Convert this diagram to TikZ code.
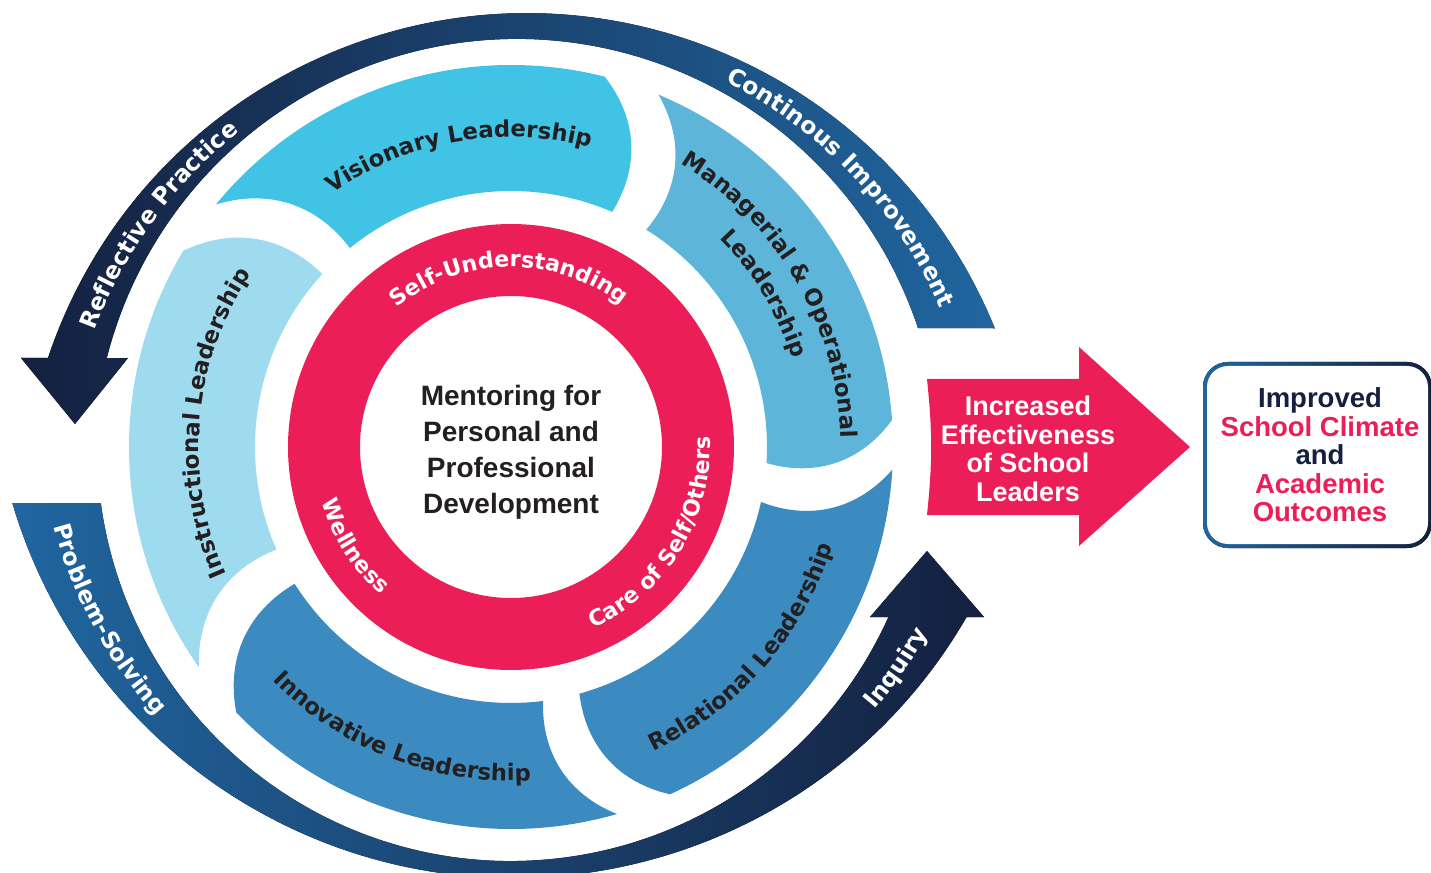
\documentclass[tikz,border=0pt]{standalone}
\usepackage{fontspec}
\setmainfont{Liberation Sans}
\newfontfamily\widefont{DejaVu Sans}
\usepackage{tikz}
\usetikzlibrary{decorations.text}

\definecolor{ringred}{HTML}{EC1E57}
\definecolor{navy}{HTML}{14203F}
\definecolor{steel}{HTML}{2066A0}
\definecolor{visionary}{HTML}{41C3E6}
\definecolor{managerial}{HTML}{5DB5DA}
\definecolor{relational}{HTML}{3B8BC0}
\definecolor{innovative}{HTML}{3B8BC0}
\definecolor{instructional}{HTML}{9FDBEF}
\definecolor{inkdark}{HTML}{231F20}

\newcommand\seglabel{\widefont\bfseries\fontsize{11.4}{13}\selectfont}
\newcommand\ringlabel{\widefont\bfseries\fontsize{11.1}{12}\selectfont}
\newcommand\looplabel{\widefont\bfseries\fontsize{11.75}{14}\selectfont}

\tikzset{
  curved label/.style 2 args={decorate,
    decoration={text along path, text align=center, text color=#1, text={#2}}},
}

\begin{document}
\begin{tikzpicture}[x=0.5pt, y=0.5pt]
  \useasboundingbox (-511,-426) rectangle (920,447);

  % outer loop arrows
  \fill[left color=navy, right color=steel]
    (407,119) arc[start angle=18.47, end angle=165.77, radius=423]
    -- (-383,89) -- (-436,23) -- (-490,89) -- (-463,89)
    arc[start angle=161.5, end angle=22.1, radius=505] -- cycle;
  \fill[left color=steel, right color=navy]
    (-410.2,-56) arc[start angle=187.77, end angle=335.76, radius=414]
    -- (359,-170) -- (416,-104) -- (473,-170) -- (455.6,-170)
    arc[start angle=329.94, end angle=196.44, radius=523] -- cycle;

  % the five leadership segments
  \foreach \so/\si/\eo/\ei/\col in {140.6/129.0/75.8/66.7/visionary,
      67.3/58.1/4.05/-3.6/managerial, -3.4/-12.4/-65.4/-74.5/relational,
      -73.9/-82.8/-136/-147.7/innovative, -144.8/-156.4/-210.9/-222.5/instructional}
    \fill[\col] (\so:382) arc[start angle=\so, end angle=\eo, radius=382]
      to[bend left=35] (\ei:256) arc[start angle=\ei, end angle=\si, radius=256]
      to[bend right=35] (\so:382) -- cycle;

  % red ring
  \fill[ringred, even odd rule] (0,0) circle[radius=223] circle[radius=151];

  \node (mentoring) [align=center, text=inkdark, font=\bfseries\fontsize{14}{18}\selectfont] at (0,-5)
    {Mentoring for\\Personal and\\Professional\\Development};

  \path[curved label={white}{|\ringlabel|Self-Understanding}]
    (150.7:180) arc[start angle=150.7, end angle=30.7, radius=180];
  \path[curved label={white}{|\ringlabel|Care of Self/Others}]
    (-91.25:199) arc[start angle=-91.25, end angle=28.75, radius=199];
  \path[curved label={white}{|\ringlabel|Wellness}]
    (162.3:197) arc[start angle=162.3, end angle=262.3, radius=197];

  \path[curved label={inkdark}{|\seglabel|Visionary Leadership}]
    (150.2:310) arc[start angle=150.2, end angle=50.2, radius=310];
  \path[curved label={inkdark}{|\seglabel|Managerial {\&} Operational}]
    (90.3:330) arc[start angle=90.3, end angle=-29.7, radius=330];
  \path[curved label={inkdark}{|\seglabel|Leadership}]
    (81.2:295) arc[start angle=81.2, end angle=-18.8, radius=295];
  \path[curved label={inkdark}{|\seglabel|Relational Leadership}]
    (-91:336) arc[start angle=-91, end angle=9, radius=336];
  \path[curved label={inkdark}{|\seglabel|Innovative Leadership}]
    (198.9:334) arc[start angle=198.9, end angle=298.9, radius=334];
  \path[curved label={inkdark}{|\seglabel|Instructional Leadership}]
    (235.2:312) arc[start angle=235.2, end angle=115.2, radius=312];

  \path[shift={(11,-43)}, curved label={white}{|\looplabel|Reflective Practice}]
    (183.9:456) arc[start angle=183.9, end angle=103.9, radius=456];
  \path[shift={(11,-43)}, curved label={white}{|\looplabel|Continous Improvement}]
    (83.5:456) arc[start angle=83.5, end angle=3.5, radius=456];
  \path[shift={(1.5,46)}, curved label={white}{|\looplabel|Problem-Solving}]
    (178.4:476) arc[start angle=178.4, end angle=238.4, radius=476];
  \path[shift={(1.5,46)}, curved label={white}{|\looplabel|Inquiry}]
    (-64.8:476) arc[start angle=-64.8, end angle=-4.8, radius=476];

  % result arrow and outcome box
  \fill[ringred] (416,-68) to[bend right=6] (416,68) -- (568,68) -- (568,100)
    -- (679,0) -- (568,-99) -- (568,-68) -- cycle;
  \node (effect) [align=center, text=white, font=\bfseries\fontsize{13.5}{14.25}\selectfont] at (517,-2)
    {Increased\\Effectiveness\\of School\\Leaders};

  \fill[left color=steel, right color=navy, rounded corners=12.5pt] (692,85) rectangle (921,-101);
  \fill[white, rounded corners=10.5pt] (696,81) rectangle (917,-97);
  \node (outcomes) [align=center, font=\bfseries\fontsize{13.75}{14.25}\selectfont] at (809,-8)
    {\textcolor{navy}{Improved}\\\textcolor{ringred}{School Climate}\\\textcolor{navy}{and}\\
     \textcolor{ringred}{Academic}\\\textcolor{ringred}{Outcomes}};
\end{tikzpicture}
\end{document}
